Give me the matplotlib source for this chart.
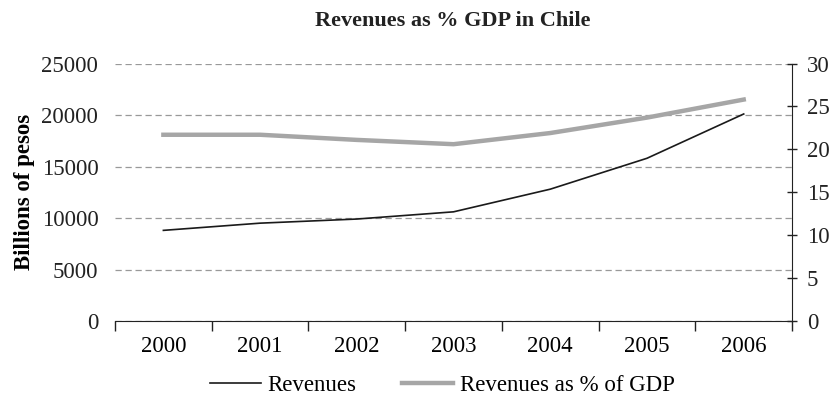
import matplotlib.pyplot as plt
import numpy as np

# data
years = ['2000', '2001', '2002', '2003', '2004', '2005', '2006']
revenues = [8800, 9500, 9900, 10600, 12800, 15800, 20100]
revenues_pct_gdp = [21.7, 21.7, 21.1, 20.6, 21.9, 23.7, 25.8]

plt.rcParams['font.family'] = ['Liberation Serif', 'DejaVu Serif']

fig = plt.figure(figsize=(8.3, 4.01), dpi=100)
ax = fig.add_axes([0.1386, 0.1995, 0.8157, 0.6421])
ax2 = ax.twinx()

x = np.arange(len(years))
l1, = ax.plot(x, revenues, color='#1a1a1a', lw=1.2, label='Revenues')
l2, = ax2.plot(x, revenues_pct_gdp, color='#a6a6a6', lw=3.2, label='Revenues as % of GDP')

ax.set_xlim(-0.5, len(years) - 0.5)
ax.set_ylim(0, 25000)
ax2.set_ylim(0, 30)
ax.set_yticks(np.arange(0, 25001, 5000))
ax2.set_yticks(np.arange(0, 31, 5))

ax.set_xticks(x)
ax.set_xticklabels(years, fontsize=16.5)
ax.set_xticks(np.arange(-0.5, len(years), 1), minor=True)
ax.tick_params(axis='x', which='major', length=0, pad=11)
ax.tick_params(axis='x', which='minor', length=7, width=1, direction='out', color='#222222')
ax.tick_params(axis='y', length=0, labelsize=16.5, pad=12, labelcolor='#222222')
ax2.tick_params(axis='y', length=7, width=1, direction='inout', labelsize=16.5, pad=7,
                labelcolor='#222222', color='#222222')

ax.grid(axis='y', color='#999999', lw=0.9, ls=(0, (5, 3)))
ax.set_axisbelow(True)

for a in (ax, ax2):
    a.spines['top'].set_visible(False)
    a.spines['left'].set_visible(False)
ax.spines['right'].set_visible(False)
ax.spines['bottom'].set_color('#222222')
ax2.spines['bottom'].set_visible(False)
ax2.spines['right'].set_color('#222222')

ax.set_ylabel('Billions of pesos', fontsize=16.5, fontweight='bold', labelpad=5)
fig.text(0.546, 0.948, 'Revenues as % GDP in Chile', fontsize=16, fontweight='bold',
         ha='center', va='center', color='#222222')

fig.legend([l1, l2], [l1.get_label(), l2.get_label()], loc='center', ncol=2,
           bbox_to_anchor=(0.533, 0.038), frameon=False, fontsize=16.5,
           handlelength=2.2, handletextpad=0.3, columnspacing=2.0)

fig.savefig('out.png', dpi=100)
